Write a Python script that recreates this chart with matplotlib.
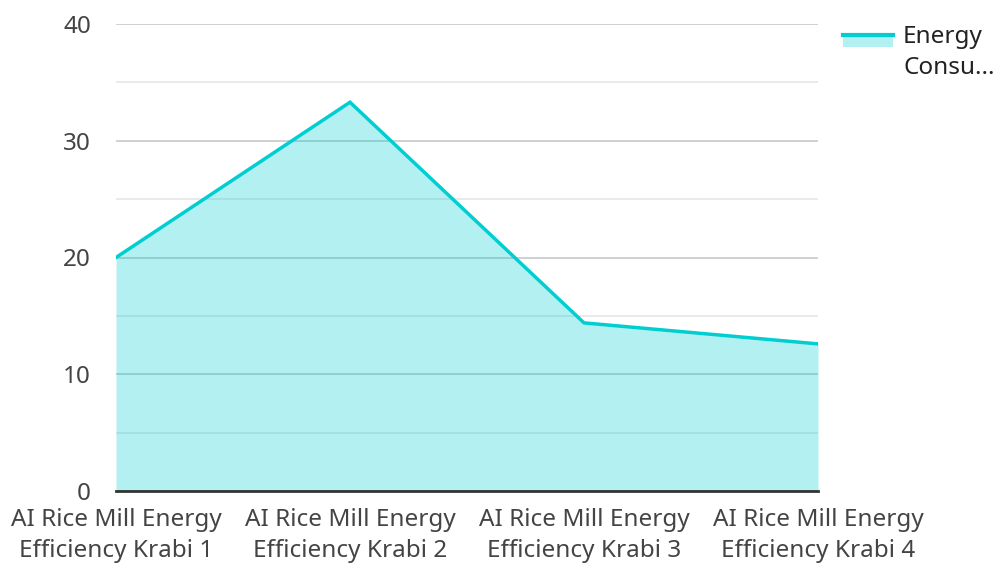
import matplotlib.pyplot as plt
from matplotlib.patches import Rectangle
from matplotlib.lines import Line2D

plt.rcParams['font.family'] = ['Noto Sans', 'DejaVu Sans']

categories = ['AI Rice Mill Energy\nEfficiency Krabi 1', 'AI Rice Mill Energy\nEfficiency Krabi 2',
              'AI Rice Mill Energy\nEfficiency Krabi 3', 'AI Rice Mill Energy\nEfficiency Krabi 4']
energy = [20.0, 33.3, 14.4, 12.6]
y_ticks = [0, 10, 20, 30, 40]

LINE = '#00CED1'
TEXT = '#444444'
FS = 17.5

fig = plt.figure(figsize=(9.97, 5.66), dpi=100)
ax = fig.add_axes([116 / 997, 1 - 491 / 566, (818 - 116) / 997, (491 - 24) / 566])

x = list(range(len(categories)))
ax.fill_between(x, energy, 0, color=LINE, alpha=0.3, linewidth=0, zorder=2)
ax.plot(x, energy, color=LINE, linewidth=2.5, zorder=3, solid_joinstyle='miter')

ax.set_xlim(0, len(categories) - 1)
ax.set_ylim(0, 40)
ax.set_yticks(y_ticks)
ax.set_yticks([5, 15, 25, 35], minor=True)
ax.grid(axis='y', which='major', color='#c8c8c8', linewidth=1.2, zorder=1)
ax.grid(axis='y', which='minor', color='#e6e6e6', linewidth=1.2, zorder=1)
ax.set_axisbelow(True)

ax.set_xticks(x)
ax.set_xticklabels(categories, fontsize=FS, color=TEXT, linespacing=1.38)
ax.tick_params(axis='y', which='both', length=0, labelsize=FS, labelcolor=TEXT, pad=18)
ax.tick_params(axis='x', length=0, pad=12)

for s in ['top', 'right', 'left']:
    ax.spines[s].set_visible(False)
ax.spines['bottom'].set_color('#333333')
ax.spines['bottom'].set_linewidth(2)
ax.spines['bottom'].set_zorder(4)

# legend swatch: filled band with the line on its top edge
W, H = 997, 566
fig.patches.append(Rectangle((843 / W, 1 - 47 / H), 50 / W, 12 / H, transform=fig.transFigure,
                             facecolor=LINE, alpha=0.3, linewidth=0))
fig.lines.append(Line2D([843 / W, 893 / W], [1 - 35 / H, 1 - 35 / H], transform=fig.transFigure,
                        color=LINE, linewidth=3))
fig.text(903 / W, 1 - 25 / H, 'Energy\nConsu...', fontsize=FS, color='#222222',
         va='top', ha='left', linespacing=1.38)

fig.savefig('out.png', dpi=100)
